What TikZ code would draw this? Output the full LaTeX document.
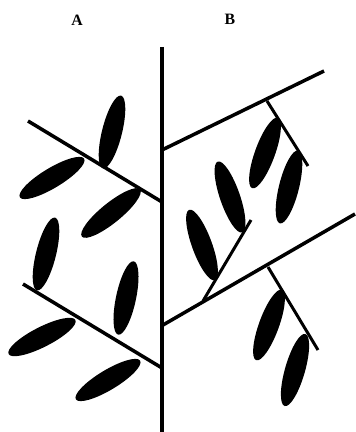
\documentclass[tikz,border=0pt]{standalone}
\usepackage{fontspec}
\setmainfont{Liberation Serif}
\usetikzlibrary{shapes.geometric}

\begin{document}
\begin{tikzpicture}[x=0.02cm,y=-0.02cm,
 stalk/.style={line width=2pt},
 twig/.style={line width=1.7pt},
 leaf/.style={ellipse,fill=black,minimum width=1.5cm,minimum height=0.4cm,inner sep=0pt},
 lbl/.style={font=\bfseries\small}]
\useasboundingbox (0,0) rectangle (355,432);
\node[lbl] (labA) at (77,20) {A}; \node[lbl] (labB) at (230,19) {B};
% main stem
\coordinate (s0) at (162,47); \coordinate (s1) at (162,432);
\draw[stalk] (s0)--(s1);
% A: branches leaving the stem on the left
\coordinate (ua) at (28,121); \coordinate (ub) at (162,202);
\coordinate (la) at (23,284); \coordinate (lb) at (162,368);
\draw[stalk] (ua)--(ub); \draw[stalk] (la)--(lb);
\node[leaf,rotate=76] (a1) at (112,132) {}; \node[leaf,rotate=31] (a2) at (52,178) {};
\node[leaf,rotate=39] (a3) at (111,213) {}; \node[leaf,rotate=76] (a4) at (46,254) {};
\node[leaf,rotate=78] (a5) at (126,298) {}; \node[leaf,rotate=27] (a6) at (42,337) {};
\node[leaf,rotate=31] (a7) at (108,380) {};
% B: branches leaving the stem on the right, with side twigs
\coordinate (ra) at (162,150); \coordinate (rb) at (324,71);
\coordinate (rc) at (163,325); \coordinate (rd) at (355,214);
\draw[stalk] (ra)--(rb); \draw[stalk] (rc)--(rd);
\coordinate (t1a) at (267,101); \coordinate (t1b) at (308,166);
\coordinate (t2a) at (203,301); \coordinate (t2b) at (251,220);
\coordinate (t3a) at (268,267); \coordinate (t3b) at (318,350);
\draw[twig] (t1a)--(t1b); \draw[twig] (t2a)--(t2b); \draw[twig] (t3a)--(t3b);
\node[leaf,rotate=70] (b1) at (265,153) {}; \node[leaf,rotate=76] (b2) at (289,187) {};
\node[leaf,rotate=109] (b3) at (230,197) {}; \node[leaf,rotate=110] (b4) at (202,245) {};
\node[leaf,rotate=70] (b5) at (269,325) {}; \node[leaf,rotate=74] (b6) at (295,370) {};
\end{tikzpicture}
\end{document}
